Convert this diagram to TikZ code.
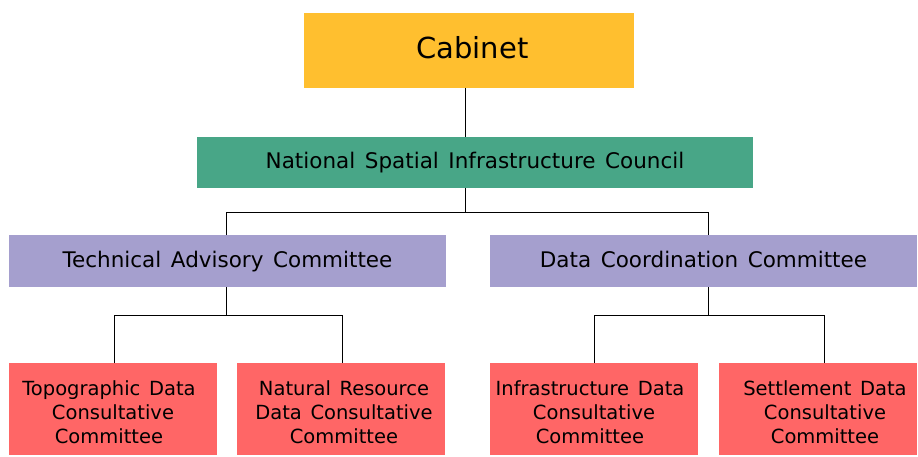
\documentclass[tikz,border=0pt]{standalone}
\usepackage{fontspec}
\setmainfont{DejaVu Sans}[WordSpace=1.4]
\definecolor{cabc}{HTML}{FFBF2F}
\definecolor{nsic}{HTML}{48A687}
\definecolor{comc}{HTML}{A59FCE}
\definecolor{redc}{HTML}{FF6666}
\newcommand\fstrut{\rule{0pt}{21.5pt}}
\begin{document}
\begin{tikzpicture}[x=1pt,y=-1pt,
  box/.style={rectangle, inner sep=0pt, outer sep=0pt, text=black, align=center},
  small/.style={box, fill=redc, minimum height=92pt, font=\fontsize{19.5}{24}\selectfont},
  mid/.style={box, fill=comc, minimum height=52pt, text height=15.5pt, text depth=3pt, font=\fontsize{21.5}{25}\selectfont},
  conn/.style={draw=black, line width=0.8pt}]
\useasboundingbox (0,0) rectangle (918,457);
\fill[white] (0,0) rectangle (918,457);
\node[box, fill=cabc, minimum width=330pt, minimum height=75pt, font=\fontsize{29}{36}\selectfont] (cab) at (469,50.5) {\hspace*{7pt}Cabinet\rule[-6pt]{0pt}{6pt}};
\node[box, fill=nsic, minimum width=556pt, minimum height=51pt, font=\fontsize{21.5}{25}\selectfont] (nsic) at (475,162.5) {National Spatial Infrastructure Council};
\node[mid, minimum width=437pt] (tac) at (227.5,261) {Technical Advisory Committee};
\node[mid, minimum width=427pt] (dcc) at (703.5,261) {Data Coordination Committee};
\node[small, minimum width=208pt] (topo) at (113,409) {\fstrut Topographic Data\hspace*{8pt}\\Consultative\hspace*{8pt}\\Committee\hspace*{8pt}};
\node[small, minimum width=208pt] (nat) at (341,409) {\fstrut\hspace*{6pt}Natural Resource\\\hspace*{6pt}Data Consultative\\\hspace*{6pt}Committee};
\node[small, minimum width=208pt] (inf) at (594,409) {\fstrut Infrastructure Data\hspace*{8pt}\\Consultative\hspace*{8pt}\\Committee\hspace*{8pt}};
\node[small, minimum width=198pt] (set) at (818,409) {\fstrut\hspace*{14pt}Settlement Data\\\hspace*{14pt}Consultative\\\hspace*{14pt}Committee};
\coordinate (x0) at (465,0);
\coordinate (busA) at (465,212);
\coordinate (tx) at (226,212);
\coordinate (dx) at (708,212);
\coordinate (busL) at (226,315);
\coordinate (busR) at (708,315);
\coordinate (c1) at (114,315);
\coordinate (c2) at (342,315);
\coordinate (c3) at (594,315);
\coordinate (c4) at (824,315);
\draw[conn] (cab.south -| x0) -- (nsic.north -| x0);
\draw[conn] (nsic.south -| x0) -- (busA);
\draw[conn] (tac.north -| tx) -- (tx) -- (dx) -- (dcc.north -| dx);
\draw[conn] (tac.south -| tx) -- (busL);
\draw[conn] (topo.north -| c1) -- (c1) -- (c2) -- (nat.north -| c2);
\draw[conn] (dcc.south -| dx) -- (busR);
\draw[conn] (inf.north -| c3) -- (c3) -- (c4) -- (set.north -| c4);
\end{tikzpicture}
\end{document}
